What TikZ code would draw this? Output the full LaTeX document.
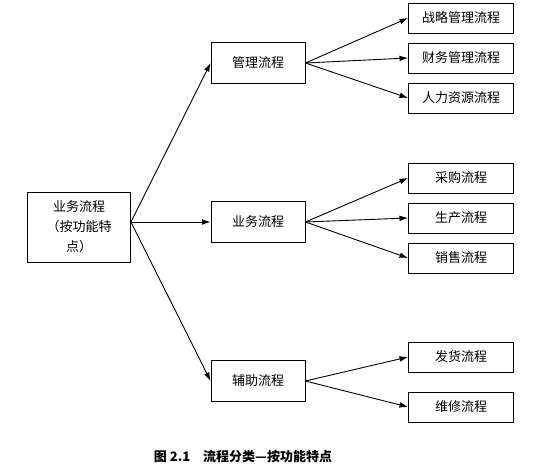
\documentclass[tikz,border=0pt]{standalone}
\usepackage{fontspec}
\newfontfamily\cjk{Noto Sans CJK SC}
\usetikzlibrary{positioning,arrows.meta}

\begin{document}
\begin{tikzpicture}[x=1pt, y=-1pt,
    lev/.style={draw, line width=0.9pt, align=center, font=\cjk\fontsize{13}{20}\selectfont,
                inner sep=0pt},
    mid/.style={lev, minimum width=94pt, minimum height=41pt},
    leaf/.style={lev, minimum width=105pt, minimum height=30pt},
    arr/.style={-{Latex[length=3mm, width=2mm]}, line width=0.9pt}]
    \useasboundingbox (0,0) rectangle (545,465);
    \node[lev, minimum width=103pt, minimum height=70pt] (root) at (79,227)
        {业务流程\\（按功能特\\点）};
    \coordinate (src) at ([yshift=5pt]root.east);
    % middle level
    \node[mid] (mgmt) at (258,63)  {管理流程};
    \node[mid] (biz)  at (258,222) {业务流程};
    \node[mid] (aux)  at (258,381) {辅助流程};
    % leaves
    \node[leaf] (m1) at (461,18)  {战略管理流程};
    \node[leaf] (m2) at (461,58)  {财务管理流程};
    \node[leaf] (m3) at (461,98)  {人力资源流程};
    \node[leaf] (b1) at (461,178) {采购流程};
    \node[leaf] (b2) at (461,218) {生产流程};
    \node[leaf] (b3) at (461,258) {销售流程};
    \node[leaf] (a1) at (461,357) {发货流程};
    \node[leaf] (a2) at (461,407) {维修流程};
    \draw[arr] (src) -- (mgmt.west);
    \draw[arr] (src) -- (biz.west);
    \draw[arr] (src) -- (aux.west);
    \foreach \t in {m1,m2,m3} \draw[arr] (mgmt.east) -- (\t.west);
    \foreach \t in {b1,b2,b3} \draw[arr] (biz.east) -- (\t.west);
    \foreach \t in {a1,a2} \draw[arr] (aux.east) -- (\t.west);
    \node[font=\cjk\bfseries\fontsize{13}{15}\selectfont] (cap) at (243,457)
        {图 2.1\quad 流程分类—按功能特点};
\end{tikzpicture}
\end{document}
